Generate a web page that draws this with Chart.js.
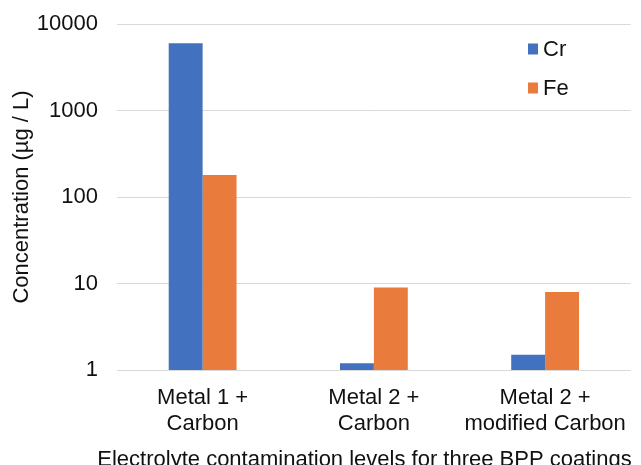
<!DOCTYPE html>
<html>
<head>
<meta charset="utf-8">
<script src="https://cdn.jsdelivr.net/npm/chart.js@4/dist/chart.umd.min.js"></script>
<style>
  html, body { margin: 0; padding: 0; background: #ffffff; overflow: hidden; }
  canvas { display: block; }
</style>
</head>
<body>
<canvas id="chart" width="641" height="465"></canvas>
<script>
// Coating categories (two-line labels) and measured contamination per metal
const categories = [
  ['Metal 1 +', 'Carbon'],
  ['Metal 2 +', 'Carbon'],
  ['Metal 2 +', 'modified Carbon']
];
const seriesNames = ['Cr', 'Fe'];
const crValues = [6000, 1.2, 1.5];
const feValues = [180, 9, 8];
const yTickValues = [1, 10, 100, 1000, 10000];

const yTitle = 'Concentration (µg / L)';
const xTitle = 'Electrolyte contamination levels for three BPP coatings';

const FONT = "'Liberation Sans', Arial, Helvetica, sans-serif";
const TEXT = '#111111';
const BLUE = '#4271BF';
const ORANGE = '#E97B3C';

// Legend drawn inside the plot, top-right, as square swatches with labels
const insideLegend = {
  id: 'insideLegend',
  afterDraw(chart) {
    const ctx = chart.ctx;
    ctx.save();
    ctx.font = '22px ' + FONT;
    ctx.textBaseline = 'middle';
    ctx.textAlign = 'left';
    const rows = [49, 88];
    chart.data.datasets.forEach((ds, i) => {
      const cy = rows[i];
      ctx.fillStyle = ds.backgroundColor;
      ctx.fillRect(528, cy - 5.5, 10, 11);
      ctx.fillStyle = TEXT;
      ctx.fillText(ds.label, 543, cy + 1);
    });
    ctx.restore();
  }
};

// Horizontal axis title under the category labels
const bottomTitle = {
  id: 'bottomTitle',
  afterDraw(chart) {
    const ctx = chart.ctx;
    ctx.save();
    ctx.font = '22px ' + FONT;
    ctx.fillStyle = TEXT;
    ctx.textAlign = 'center';
    ctx.textBaseline = 'middle';
    ctx.fillText(xTitle, 364.5, 460);
    ctx.restore();
  }
};

new Chart(document.getElementById('chart'), {
  type: 'bar',
  data: {
    labels: categories,
    datasets: [
      { label: seriesNames[0], data: crValues, backgroundColor: BLUE },
      { label: seriesNames[1], data: feValues, backgroundColor: ORANGE }
    ]
  },
  options: {
    responsive: false,
    animation: false,
    devicePixelRatio: 1,
    layout: { padding: { top: 24, right: 1, left: 0, bottom: 0 } },
    datasets: {
      bar: { categoryPercentage: 0.396, barPercentage: 1.0, borderWidth: 0 }
    },
    plugins: {
      legend: { display: false },
      tooltip: { enabled: false }
    },
    scales: {
      x: {
        grid: { display: false, drawTicks: false },
        border: { display: false },
        ticks: {
          color: TEXT,
          font: { family: FONT, size: 22, lineHeight: 1.17 },
          padding: 15,
          maxRotation: 0,
          autoSkip: false
        },
        afterFit(scale) { scale.height = 95; }
      },
      y: {
        type: 'logarithmic',
        min: 1,
        max: 10000,
        grid: { color: '#D9D9D9', lineWidth: 1, drawTicks: false },
        border: { display: false },
        afterBuildTicks(scale) {
          scale.ticks = yTickValues.map(v => ({ value: v }));
        },
        ticks: {
          color: TEXT,
          font: { family: FONT, size: 22 },
          padding: 19,
          callback: (v) => String(v)
        },
        title: {
          display: true,
          text: yTitle,
          color: TEXT,
          font: { family: FONT, size: 22 },
          padding: { top: 9, bottom: 0 }
        },
        afterFit(scale) {
          scale.width = 117;
          scale.paddingTop = 0;
          scale.paddingBottom = 0;
        }
      }
    }
  },
  plugins: [insideLegend, bottomTitle]
});
</script>
</body>
</html>
